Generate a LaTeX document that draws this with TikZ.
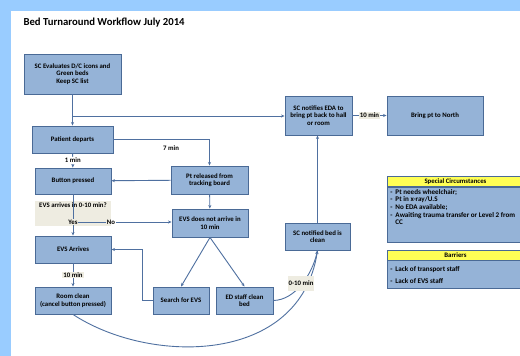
\documentclass[tikz,border=0pt]{standalone}
\usepackage{fontspec}
\setmainfont{Carlito}
\usetikzlibrary{arrows.meta}

\definecolor{pagebg}{HTML}{99CCFF}
\definecolor{boxfill}{HTML}{95B3D7}
\definecolor{boxline}{HTML}{4A6A96}
\definecolor{linkcol}{HTML}{4F70A0}
\definecolor{lblfill}{HTML}{EEECE1}
\definecolor{headfill}{HTML}{FFFF55}

\newcommand{\boxfont}{\fontsize{6.8}{7.6}\selectfont\bfseries}
\newcommand{\notefont}{\fontsize{7.1}{7.6}\selectfont\bfseries}
\newcommand{\itm}[1]{\makebox[5pt][l]{-}#1}

\tikzset{
  stepbox/.style={draw=boxline,fill=boxfill,line width=0.9pt,font=\boxfont,align=center,inner sep=1pt},
  link/.style={draw=linkcol,line width=0.9pt,-{Stealth[length=3.5pt,width=3pt]}},
  plainline/.style={draw=linkcol,line width=0.9pt},
  timelbl/.style={fill=lblfill,font=\boxfont,inner sep=1pt},
  headbox/.style={draw=boxline,fill=headfill,line width=0.9pt,font=\boxfont,minimum width=136,minimum height=10,inner sep=0pt},
}

\begin{document}
\begin{tikzpicture}[x=1pt,y=-1pt]
\useasboundingbox (0,0) rectangle (520,356);
\fill[pagebg] (0,0) rectangle (520,356);
\fill[white] (11,11) rectangle (520,356);
\node[anchor=west,font=\fontsize{10.7}{12}\selectfont\bfseries] (title) at (20,23) {Bed Turnaround Workflow July 2014};

% left column
\node[stepbox,minimum width=97,minimum height=40] (sceval) at (72.5,74) {SC Evaluates D/C icons and\\Green beds\\Keep SC list};
\node[stepbox,minimum width=81,minimum height=27] (depart) at (72.5,139.5) {Patient departs};
\node[stepbox,minimum width=76,minimum height=26] (button) at (73,181) {Button pressed};
\node[fill=lblfill,minimum width=76,text height=5pt,text depth=16pt,inner sep=2pt,font=\boxfont] (question) at (73,213) {EVS arrives in 0-10 min?};
\node[stepbox,minimum width=76,minimum height=27] (arrives) at (73,249.5) {EVS Arrives};
\node[stepbox,minimum width=76,minimum height=27] (roomclean) at (73,300.5) {Room clean\\(cancel button pressed)};

% middle column
\node[stepbox,minimum width=77,minimum height=28] (released) at (209.5,180) {Pt released from\\tracking board};
\node[stepbox,minimum width=76,minimum height=28] (noarrive) at (210,223) {EVS does not arrive in\\10 min};
\node[stepbox,minimum width=56,minimum height=27] (search) at (181,300.5) {Search for EVS};
\node[stepbox,minimum width=57,minimum height=27] (edclean) at (244.5,300.5) {ED staff clean\\bed};

% right column
\node[stepbox,minimum width=67,minimum height=39] (notifyeda) at (318.5,115.5) {SC notifies EDA to\\bring pt back to hall\\or room};
\node[stepbox,minimum width=96,minimum height=39] (north) at (435,115.5) {Bring pt to North};
\node[stepbox,minimum width=65,minimum height=27] (notified) at (317.5,236.5) {SC notified bed is\\clean};

% side notes
\node[headbox,anchor=north west] (spechead) at (387,176) {Special Circumstances};
\node[stepbox,anchor=north west,minimum width=136,minimum height=55,align=left,inner sep=2pt] (specbody) at (spechead.south west)
  {\parbox[c][51pt][t]{130pt}{\notefont\itm{Pt needs wheelchair;}\\\itm{Pt in x-ray/U.S}\\\itm{No EDA available;}\\\itm{Awaiting trauma transfer or Level 2 from}\\\hspace*{5pt}CC}};
\node[headbox,anchor=north west] (barhead) at (387,249.5) {Barriers};
\node[stepbox,anchor=north west,minimum width=136,minimum height=28,align=left,inner sep=2pt] (barbody) at (barhead.south west)
  {\parbox[c][24pt][c]{130pt}{\notefont\itm{Lack of transport staff}\\[4.5pt]\itm{Lack of EVS staff}}};

% connectors
\coordinate (split) at (72.5,116);
\draw[link] (sceval) -- (depart);
\draw[link] (split) -- (split -| notifyeda.west);
\draw[link] (depart.east) -| node[pos=0.3,below=2pt,font=\boxfont] (seven) {7 min} (released.north);
\draw[link] (depart) -- node[fill=white,font=\boxfont,inner sep=1pt] (one) {1 min} (button);
\draw[link] (released) -- (button);
\draw[link] (released) -- (noarrive);
\draw[link] (button) -- (arrives);
\node[font=\boxfont,fill=lblfill,inner sep=0.5pt] (yes) at (73,222) {Yes};
\node[font=\boxfont,inner sep=0.5pt] (no) at (111,222) {No};
\draw[plainline] (yes) -- (no);
\draw[link] (no) -- (noarrive.west |- no);
\draw[link] (arrives) -- node[timelbl] (ten) {10 min} (roomclean);
\draw[link] (noarrive.south) -- (search.north);
\draw[link] (noarrive.south) -- (edclean.north);
\draw[link] (search.west) -- ++(-10,0) |- (arrives.east);
\draw[link] (notified.north) -- (notified.north |- notifyeda.south);
\draw[link] (notifyeda) -- node[timelbl] (tenb) {10 min} (north);
\draw[link] (edclean.east) .. controls (295,300) and (312,275) .. (notified.south);
\draw[link] (roomclean.south) .. controls (150,365) and (300,365) .. (notified.south);
\node[timelbl,minimum width=25,minimum height=15] (gap) at (301,283.5) {0-10 min};
\end{tikzpicture}
\end{document}
